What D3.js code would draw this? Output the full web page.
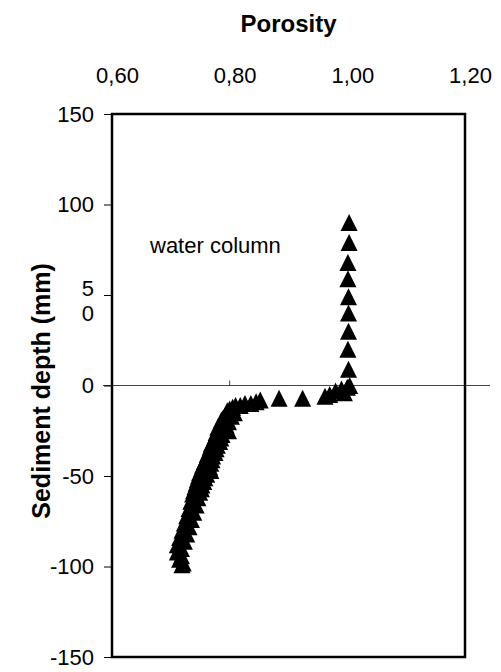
<!DOCTYPE html>
<html>
<head>
<meta charset="utf-8">
<script src="https://cdn.jsdelivr.net/npm/d3@7"></script>
<style>
  body { margin: 0; background: #fff; }
  svg { display: block; font-family: "Liberation Sans", Arial, sans-serif; }
</style>
</head>
<body>
<svg id="chart" width="501" height="672"></svg>
<script>
// porosity ticks (top) and depth ticks (left)
const xTicks = [0.6, 0.8, 1.0, 1.2];
const yTicks = [-150, -100, -50, 0, 50, 100, 150];

// water column measurements
const waterDepth = [90, 79, 68, 59, 49, 40, 30, 20, 9, 0];
const waterPorosity = [1.003, 1.003, 1.001, 1.001, 1.002, 1.002, 1.002, 1.001, 1.002, 1.004];

// sediment measurements
const sedimentDepth = [-1, -2, -3, -4, -5, -6, -7, -7, -8, -9, -10, -10, -11, -11, -12, -13, -14, -15, -16, -17,
  -18, -19, -20, -21, -22, -23, -24, -25, -26, -27, -28, -29, -30, -31, -32, -33, -34, -35, -36, -37,
  -38, -39, -40, -41, -42, -43, -44, -45, -46, -47, -48, -49, -50, -51, -52, -53, -54, -55, -56, -57,
  -58, -59, -60, -62, -64, -66, -68, -70, -72, -74, -76, -78, -80, -82, -84, -86, -88, -90, -92, -94,
  -96, -98, -99];
const sedimentPorosity = [1.0, 0.99, 0.98, 0.995, 0.97, 0.962, 0.924, 0.884, 0.852, 0.845, 0.836, 0.826, 0.818, 0.81, 0.805, 0.80, 0.796, 0.808, 0.793, 0.803,
  0.789, 0.786, 0.798, 0.784, 0.794, 0.78, 0.788, 0.798, 0.777, 0.787, 0.775, 0.785, 0.773, 0.783, 0.769, 0.779, 0.767, 0.777, 0.765, 0.775,
  0.762, 0.771, 0.76, 0.77, 0.757, 0.768, 0.754, 0.766, 0.752, 0.768, 0.749, 0.761, 0.747, 0.758, 0.745, 0.756, 0.743, 0.753, 0.741, 0.752,
  0.739, 0.749, 0.737, 0.746, 0.734, 0.743, 0.731, 0.739, 0.727, 0.735, 0.723, 0.731, 0.719, 0.727, 0.715, 0.723, 0.711, 0.718, 0.711, 0.718,
  0.715, 0.721, 0.719];

const svg = d3.select("#chart");
const margin = { top: 114, right: 36, bottom: 15, left: 112 };
const width = 501 - margin.left - margin.right;
const height = 672 - margin.top - margin.bottom;

const x = d3.scaleLinear().domain([0.6, 1.2]).range([0, width]);
const y = d3.scaleLinear().domain([-150, 150]).range([height, 0]);

const g = svg.append("g").attr("transform", `translate(${margin.left},${margin.top})`);

// zero line, runs a bit past the frame on the right
g.append("line")
  .attr("x1", -9).attr("x2", width + 25)
  .attr("y1", y(0)).attr("y2", y(0))
  .attr("stroke", "#444").attr("stroke-width", 1);
g.append("line")
  .attr("x1", x(0.8)).attr("x2", x(0.8))
  .attr("y1", y(0) - 5).attr("y2", y(0))
  .attr("stroke", "#444").attr("stroke-width", 1);

// top axis: labels only
const fmt = d => d3.format(".2f")(d).replace(".", ",");
const xAxis = g.append("g")
  .call(d3.axisTop(x).tickValues(xTicks).tickSize(0).tickPadding(31).tickFormat(fmt));
xAxis.select(".domain").remove();
xAxis.selectAll("text").attr("font-size", 22).attr("fill", "#000").attr("dx", 5);

// left axis
const yAxis = g.append("g")
  .call(d3.axisLeft(y).tickValues(yTicks).tickSizeInner(8).tickSizeOuter(0).tickPadding(10)
    .tickFormat(d => d === 50 ? "" : d));
yAxis.select(".domain").remove();
yAxis.selectAll("line").attr("stroke", "#000");
yAxis.selectAll("text").attr("font-size", 22).attr("fill", "#000");

// the "50" label is broken over two lines in the original
const fifty = yAxis.selectAll(".tick").filter(d => d === 50).select("text");
fifty.append("tspan").attr("x", -18).attr("dy", 0).text("5");
fifty.append("tspan").attr("x", -18).attr("dy", 25).text("0");

// frame
g.append("rect")
  .attr("width", width).attr("height", height)
  .attr("fill", "none").attr("stroke", "#000").attr("stroke-width", 2.5);

// markers: filled triangles, about as tall as wide
const triangle = {
  draw(ctx, size) {
    const s = Math.sqrt(size);
    ctx.moveTo(0, -s / 2);
    ctx.lineTo(s / 2, s / 2);
    ctx.lineTo(-s / 2, s / 2);
    ctx.closePath();
  }
};
const tri = d3.symbol().type(triangle).size(290);
const points = waterDepth.map((d, i) => ({ depth: d, p: waterPorosity[i] }))
  .concat(sedimentDepth.map((d, i) => ({ depth: d, p: sedimentPorosity[i] })));

g.append("g").selectAll("path")
  .data(points)
  .enter()
  .append("path")
  .attr("d", tri)
  .attr("transform", d => `translate(${x(d.p)},${y(d.depth)})`)
  .attr("fill", "#000");

// texts
g.append("text")
  .attr("x", 38).attr("y", y(73))
  .attr("font-size", 22)
  .text("water column");

svg.append("text")
  .attr("x", margin.left + width / 2).attr("y", 32)
  .attr("text-anchor", "middle")
  .attr("font-size", 24).attr("font-weight", "bold")
  .text("Porosity");

svg.append("text")
  .attr("transform", `translate(50,${margin.top + y(-3)}) rotate(-90)`)
  .attr("text-anchor", "middle")
  .attr("font-size", 25).attr("font-weight", "bold")
  .text("Sediment depth (mm)");
</script>
</body>
</html>
